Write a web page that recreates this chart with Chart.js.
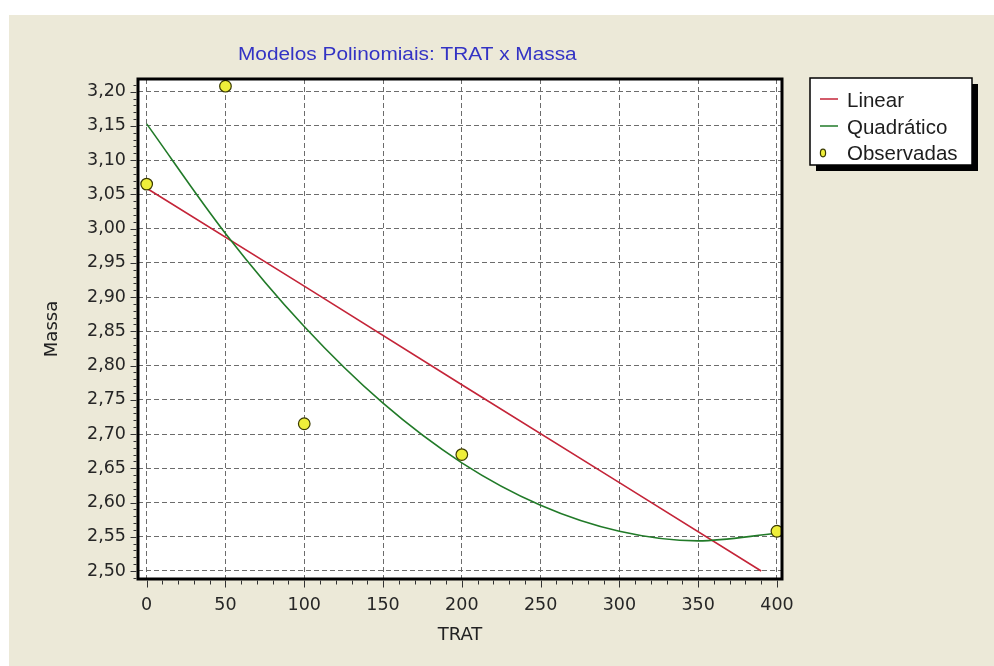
<!DOCTYPE html>
<html>
<head>
<meta charset="utf-8">
<title>Modelos Polinomiais: TRAT x Massa</title>
<script src="https://cdn.jsdelivr.net/npm/chart.js@4/dist/chart.umd.min.js"></script>
<style>
  html, body { margin: 0; padding: 0; background: #ffffff; }
  canvas { display: block; }
</style>
</head>
<body>
<canvas id="chart" width="994" height="666"></canvas>
<script>
// Observed values
const tratObs  = [0, 50, 100, 200, 400];
const massaObs = [3.065, 3.208, 2.715, 2.670, 2.558];

// Linear model
const tratLinear  = [0, 100, 200, 300, 390];
const massaLinear = [3.059, 2.916, 2.772, 2.629, 2.500];

// Quadratic model
const tratQuad  = [0, 50, 100, 150, 200, 250, 300, 350, 400];
const massaQuad = [3.153, 2.993, 2.857, 2.745, 2.658, 2.596, 2.558, 2.544, 2.555];

// Axis ticks and labels
const xTicks = [0, 50, 100, 150, 200, 250, 300, 350, 400];
const xTickLabels = ['0', '50', '100', '150', '200', '250', '300', '350', '400'];
const yTicks = [2.50, 2.55, 2.60, 2.65, 2.70, 2.75, 2.80, 2.85, 2.90, 2.95, 3.00, 3.05, 3.10, 3.15, 3.20];
const yTickLabels = ['2,50', '2,55', '2,60', '2,65', '2,70', '2,75', '2,80', '2,85', '2,90', '2,95', '3,00', '3,05', '3,10', '3,15', '3,20'];

const chartTitle = 'Modelos Polinomiais: TRAT x Massa';
const xTitle = 'TRAT';
const yTitle = 'Massa';
const seriesNames = ['Linear', 'Quadrático', 'Observadas'];

const toXY = (xs, ys) => xs.map((x, i) => ({ x: x, y: ys[i] }));

const COLOR_LINEAR = '#c42438';
const COLOR_QUAD = '#217a28';
const COLOR_POINT = '#eeee3a';
const COLOR_POINT_EDGE = '#3a3a00';
const PANEL = '#ece9d8';
const GRID = '#6c6c6c';

// Backgrounds: white strip, beige panel, white plot area
const backgroundPlugin = {
  id: 'backgrounds',
  beforeDraw(chart) {
    const { ctx, chartArea: a } = chart;
    ctx.save();
    ctx.fillStyle = '#ffffff';
    ctx.fillRect(0, 0, chart.width, chart.height);
    ctx.fillStyle = PANEL;
    ctx.fillRect(9, 15, chart.width - 9, chart.height - 15);
    ctx.fillStyle = '#ffffff';
    ctx.fillRect(a.left, a.top, a.right - a.left, a.bottom - a.top);
    ctx.restore();
  }
};

// Black frame around the plot with major/minor tick marks outside
const framePlugin = {
  id: 'frame',
  afterDatasetsDraw(chart) {
    const { ctx, chartArea: a, scales } = chart;
    const xs = scales.x, ys = scales.y;
    ctx.save();
    ctx.strokeStyle = '#000000';
    ctx.lineWidth = 3;
    ctx.strokeRect(a.left, a.top, a.right - a.left, a.bottom - a.top);

    ctx.lineWidth = 1;
    ctx.strokeStyle = '#333333';
    ctx.beginPath();
    // y axis: minor every 0.01, major every 0.05
    for (let k = 249; k <= 321; k++) {
      const py = Math.round(ys.getPixelForValue(k / 100)) + 0.5;
      if (py < a.top || py > a.bottom) continue;
      const len = (k % 5 === 0) ? 6 : 3;
      ctx.moveTo(a.left - 1.5, py);
      ctx.lineTo(a.left - 1.5 - len, py);
    }
    // x axis: minor every 10, major every 50
    for (let v = 0; v <= 400; v += 10) {
      const px = Math.round(xs.getPixelForValue(v)) + 0.5;
      const len = (v % 50 === 0) ? 7 : 4;
      ctx.moveTo(px, a.bottom + 1.5);
      ctx.lineTo(px, a.bottom + 1.5 + len);
    }
    ctx.stroke();
    ctx.restore();
  }
};

// Title and boxed legend with drop shadow
const decorPlugin = {
  id: 'decor',
  afterDraw(chart) {
    const ctx = chart.ctx;
    ctx.save();
    // title
    ctx.fillStyle = '#3333c4';
    ctx.font = '17.5px "Liberation Sans", Arial, sans-serif';
    ctx.textBaseline = 'alphabetic';
    ctx.textAlign = 'left';
    ctx.save();
    ctx.translate(238, 60);
    ctx.scale(1.19, 1);
    ctx.fillText(chartTitle, 0, 0);
    ctx.restore();

    // legend box
    const bx = 810, by = 78, bw = 162, bh = 87;
    ctx.fillStyle = '#000000';
    ctx.fillRect(bx + 6, by + 6, bw, bh);
    ctx.fillStyle = '#ffffff';
    ctx.fillRect(bx, by, bw, bh);
    ctx.strokeStyle = '#000000';
    ctx.lineWidth = 1.5;
    ctx.strokeRect(bx, by, bw, bh);

    const ds = chart.data.datasets;
    const baselines = [107, 134, 160];
    ctx.font = '20.5px "Liberation Sans", Arial, sans-serif';
    ds.forEach((d, i) => {
      const yb = baselines[i];
      if (d.showLine) {
        ctx.strokeStyle = d.borderColor;
        ctx.lineWidth = 1.5;
        ctx.beginPath();
        ctx.moveTo(820, yb - 8);
        ctx.lineTo(838, yb - 8);
        ctx.stroke();
      } else {
        ctx.fillStyle = d.backgroundColor;
        ctx.strokeStyle = d.borderColor;
        ctx.lineWidth = 1.2;
        ctx.beginPath();
        ctx.ellipse(823, yb - 7, 2.6, 3.8, 0, 0, Math.PI * 2);
        ctx.fill();
        ctx.stroke();
      }
      ctx.fillStyle = '#1e1e1e';
      ctx.fillText(d.label, 847, yb);
    });
    ctx.restore();
  }
};

const tickFont = { family: '"DejaVu Sans", sans-serif', size: 17.5 };
const titleFont = { family: '"DejaVu Sans", sans-serif', size: 18 };

new Chart(document.getElementById('chart'), {
  type: 'scatter',
  data: {
    datasets: [
      {
        label: seriesNames[0],
        data: toXY(tratLinear, massaLinear),
        showLine: true,
        borderColor: COLOR_LINEAR,
        backgroundColor: COLOR_LINEAR,
        borderWidth: 1.6,
        pointRadius: 0,
        tension: 0,
        order: 2
      },
      {
        label: seriesNames[1],
        data: toXY(tratQuad, massaQuad),
        showLine: true,
        borderColor: COLOR_QUAD,
        backgroundColor: COLOR_QUAD,
        borderWidth: 1.6,
        pointRadius: 0,
        cubicInterpolationMode: 'monotone',
        order: 1
      },
      {
        label: seriesNames[2],
        data: toXY(tratObs, massaObs),
        showLine: false,
        backgroundColor: COLOR_POINT,
        borderColor: COLOR_POINT_EDGE,
        borderWidth: 1.2,
        pointRadius: 5.8,
        pointStyle: 'circle',
        order: 0
      }
    ]
  },
  options: {
    responsive: false,
    animation: false,
    events: [],
    layout: { padding: { left: 0, right: 212, top: 79, bottom: 0 } },
    plugins: {
      legend: { display: false },
      title: { display: false },
      tooltip: { enabled: false }
    },
    scales: {
      x: {
        type: 'linear',
        min: -5.5,
        max: 403.2,
        afterBuildTicks(scale) { scale.ticks = xTicks.map(v => ({ value: v })); },
        afterFit(scale) { scale.height = 87; },
        ticks: {
          font: tickFont,
          color: '#262626',
          padding: 16,
          maxRotation: 0,
          callback: (v, i) => xTickLabels[i]
        },
        grid: { color: GRID, lineWidth: 1, drawTicks: false },
        border: { display: false, dash: [5, 3] },
        title: {
          display: true,
          text: xTitle,
          font: titleFont,
          color: '#222222',
          padding: { top: 0, bottom: 20 }
        }
      },
      y: {
        type: 'linear',
        min: 2.4883,
        max: 3.2185,
        afterBuildTicks(scale) { scale.ticks = yTicks.map(v => ({ value: v })); },
        afterFit(scale) { scale.width = 138; },
        ticks: {
          font: tickFont,
          color: '#262626',
          padding: 12,
          callback: (v, i) => yTickLabels[i]
        },
        grid: { color: GRID, lineWidth: 1, drawTicks: false },
        border: { display: false, dash: [5, 3] },
        title: {
          display: true,
          text: yTitle,
          font: titleFont,
          color: '#222222',
          padding: { top: 42, bottom: 0 }
        }
      }
    }
  },
  plugins: [backgroundPlugin, framePlugin, decorPlugin]
});
</script>
</body>
</html>
